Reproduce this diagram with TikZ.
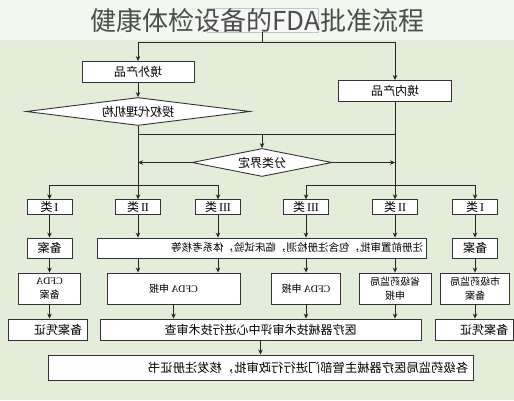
\documentclass[tikz,border=0pt]{standalone}
\usepackage{fontspec}
\setmainfont{Liberation Serif}
\newfontfamily\cjk{Noto Sans CJK SC}
\usetikzlibrary{arrows.meta,shapes.geometric}
\definecolor{topband}{HTML}{F2F7EF}
\definecolor{lowband}{HTML}{E4EDDA}
\newcommand{\mirtext}[1]{\reflectbox{#1}}

\begin{document}
\begin{tikzpicture}[x=1pt,y=-1pt,>={Stealth[length=5pt,width=4.5pt]},
  box/.style={draw=black!80,fill=white,line width=0.9pt,inner sep=0pt,font=\cjk\fontsize{12}{14}\selectfont},
  smallbox/.style={box,font=\cjk\fontsize{10}{14}\selectfont,align=center},
  dia/.style={diamond,draw=black!80,fill=white,line width=0.9pt,inner sep=0pt,font=\cjk\fontsize{12}{14}\selectfont},
  ln/.style={draw=black!85,line width=0.8pt},
  arr/.style={ln,->}]
\useasboundingbox (0,0) rectangle (514,400);
\fill[topband] (0,0) rectangle (514,39.5);
\fill[lowband] (0,39.5) rectangle (514,400);

% title
\node[draw=gray!45,fill=gray!6,minimum width=111pt,minimum height=24pt,inner sep=0pt] (mark) at (262.5,20) {};
\node[font=\cjk\fontsize{26}{30}\selectfont,text=black!70] (title) at (257.5,21) {健康体检设备的FDA批准流程};

% products and classification
\node[box,minimum width=112pt,minimum height=21pt] (wai) at (138,72) {\mirtext{境外产品}};
\node[box,minimum width=113pt,minimum height=21pt] (nei) at (395,91) {\mirtext{境内产品}};
\node[dia,minimum width=224pt,minimum height=28pt,aspect=8] (auth) at (138,111.5) {\mirtext{授权代理机构}};
\node[dia,minimum width=140pt,minimum height=28pt,aspect=5] (cls) at (262,162.5) {\mirtext{分类界定}};

\coordinate (tl) at (138,42);
\coordinate (tr) at (395,42);
\coordinate (jn) at (262,134.7);
\coordinate (lb) at (138,185);
\coordinate (rb) at (395,185);

\draw[ln] (mark.south) -- (mark.south |- tl);
\draw[ln] (tl) -- (tr);
\draw[arr] (tl) -- (wai.north);
\draw[arr] (tr) -- (nei.north);
\draw[arr] (wai.south) -- (auth.north);
\draw[ln] (auth.south) -- (lb);
\draw[ln] (nei.south) -- (rb);
\draw[ln] (auth.south |- jn) -- (nei.south |- jn);
\draw[arr] (jn) -- (cls.north);
\draw[arr] (cls.west) -- (cls.west -| lb);
\draw[arr] (cls.east) -- (cls.east -| rb);

% classes
\node[box,minimum width=45pt,minimum height=14.5pt] (L1) at (49.5,207) {\mirtext{{\rmfamily I}\,类}};
\node[box,minimum width=45pt,minimum height=14.5pt] (L2) at (138,207) {\mirtext{{\rmfamily II}\,类}};
\node[box,minimum width=45pt,minimum height=14.5pt] (L3) at (218,207) {\mirtext{{\rmfamily III}\,类}};
\node[box,minimum width=45pt,minimum height=14.5pt] (R3) at (306,207) {\mirtext{{\rmfamily III}\,类}};
\node[box,minimum width=45pt,minimum height=14.5pt] (R2) at (395,207) {\mirtext{{\rmfamily II}\,类}};
\node[box,minimum width=45pt,minimum height=14.5pt] (R1) at (475,207) {\mirtext{{\rmfamily I}\,类}};

\draw[ln] (L1.north |- lb) -- (L3.north |- lb);
\draw[ln] (R3.north |- rb) -- (R1.north |- rb);
\foreach \c in {L1,L2,L3} \draw[arr] (\c.north |- lb) -- (\c.north);
\foreach \c in {R1,R2,R3} \draw[arr] (\c.north |- rb) -- (\c.north);

% filing / pre-approval
\node[box,minimum width=45pt,minimum height=20pt] (Lrec) at (49.5,248) {\mirtext{备案}};
\node[box,minimum width=329pt,minimum height=20pt,inner xsep=3pt,text width=323pt,align=right,
  font=\cjk\fontsize{10.5}{13}\selectfont] (mid) at (261.5,248) {\mirtext{注册前置审批，包含注册检测，临床试验，体系考核等}};
\node[box,minimum width=45pt,minimum height=20pt] (Rrec) at (475,248) {\mirtext{备案}};

\draw[arr] (L1.south) -- (Lrec.north);
\foreach \c in {L2,L3,R3,R2} \draw[arr] (\c.south) -- (\c.south |- mid.north);
\draw[arr] (R1.south) -- (Rrec.north);

% submission
\node[smallbox,minimum width=62pt,minimum height=31pt] (Lcf) at (49.5,288.5) {\mirtext{{\rmfamily CFDA}}\\\mirtext{备案}};
\node[smallbox,minimum width=133pt,minimum height=31pt] (Mcf) at (173.5,288.5) {\mirtext{{\rmfamily CFDA} 申报}};
\node[smallbox,minimum width=69pt,minimum height=31pt] (Rcf) at (306,288.5) {\mirtext{{\rmfamily CFDA} 申报}};
\node[smallbox,minimum width=72pt,minimum height=31pt] (sheng) at (395,288.5) {\mirtext{省级药监局}\\\mirtext{申报}};
\node[smallbox,minimum width=69pt,minimum height=31pt] (shi) at (475,288.5) {\mirtext{市级药监局}\\\mirtext{备案}};

\draw[arr] (Lrec.south) -- (Lcf.north);
\draw[arr] (mid.south -| L2.south) -- (Mcf.north -| L2.south);
\draw[arr] (mid.south -| L3.south) -- (Mcf.north -| L3.south);
\draw[arr] (mid.south -| Rcf.north) -- (Rcf.north);
\draw[arr] (mid.south -| sheng.north) -- (sheng.north);
\draw[arr] (Rrec.south) -- (shi.north);

% review and certificates
\node[box,minimum width=79pt,minimum height=21pt,inner xsep=5pt,text width=69pt,align=right] (Lcert) at (47.5,329.5) {\mirtext{备案凭证}};
\node[box,minimum width=321pt,minimum height=21pt] (review) at (260.5,329.5) {\mirtext{医疗器械技术审评中心进行技术审查}};
\node[box,minimum width=78pt,minimum height=21pt,inner xsep=5pt,text width=68pt,align=right] (Rcert) at (474,329.5) {\mirtext{备案凭证}};
\node[box,minimum width=425pt,minimum height=25pt,inner xsep=5pt,text width=415pt,align=right,
  font=\cjk\fontsize{12.3}{14}\selectfont] (final) at (260.5,367.5) {\mirtext{各级药监局医疗器械主管部门进行行政审批，核发注册证书}};

\draw[arr] (Lcf.south) -- (Lcf.south |- Lcert.north);
\foreach \c in {Mcf,Rcf,sheng} \draw[arr] (\c.south) -- (\c.south |- review.north);
\draw[arr] (shi.south) -- (shi.south |- Rcert.north);
\draw[arr] (review.south) -- (final.north);
\end{tikzpicture}
\end{document}
